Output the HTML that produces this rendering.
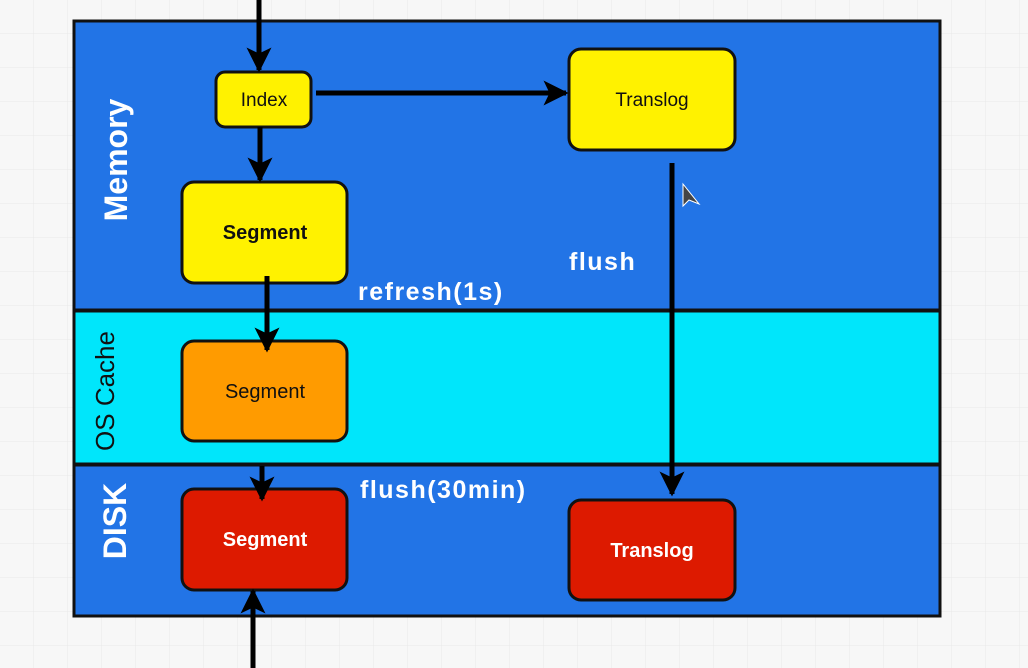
<!DOCTYPE html>
<html><head><style>
html,body{margin:0;padding:0;background:#f7f7f7;}
svg{display:block;font-family:"Liberation Sans",sans-serif;}
</style></head><body>
<svg width="1028" height="668" viewBox="0 0 1028 668">
<defs>
<pattern id="g" width="34" height="34" patternUnits="userSpaceOnUse"><path d="M34 0V34H0" fill="none" stroke="#e9e9e9" stroke-width="1"/></pattern>
<marker id="a" markerWidth="5" markerHeight="5" refX="4.5" refY="2.5" orient="auto" markerUnits="strokeWidth"><path d="M0,0 L5,2.5 L0,5 L1.2,2.5 z" fill="#000"/></marker>
</defs>
<rect width="1028" height="668" fill="url(#g)"/>
<rect x="74" y="21" width="866" height="289" fill="#2274e6" stroke="#111" stroke-width="3"/>
<rect x="74" y="311" width="866" height="153" fill="#00e6fb" stroke="#111" stroke-width="3"/>
<rect x="74" y="465" width="866" height="151" fill="#2274e6" stroke="#111" stroke-width="3"/>

<g stroke="#111" stroke-width="3">
<rect x="216" y="72" width="95" height="55" rx="9" fill="#fff200"/>
<rect x="569" y="49" width="166" height="101" rx="12" fill="#fff200"/>
<rect x="182" y="182" width="165" height="101" rx="12" fill="#fff200"/>
<rect x="182" y="341" width="165" height="100" rx="12" fill="#ff9b00"/>
<rect x="182" y="489" width="165" height="101" rx="12" fill="#dd1a00"/>
<rect x="569" y="500" width="166" height="100" rx="12" fill="#dd1a00"/>
</g>

<g stroke="#000" stroke-width="5" fill="none" marker-end="url(#a)">
<line x1="259" y1="0" x2="259" y2="70"/>
<line x1="260" y1="127" x2="260" y2="180"/>
<line x1="316" y1="93" x2="566" y2="93"/>
<line x1="267" y1="276" x2="267" y2="350"/>
<line x1="262" y1="466" x2="262" y2="499"/>
<line x1="672" y1="163" x2="672" y2="494"/>
<line x1="253" y1="668" x2="253" y2="591"/>
</g>

<g font-size="19" text-anchor="middle" fill="#111">
<text x="264" y="106">Index</text>
<text x="652" y="106">Translog</text>
<text x="265" y="239" font-weight="bold" font-size="20">Segment</text>
<text x="265" y="398" font-size="20">Segment</text>
<text x="265" y="546" fill="#fff" font-weight="bold" font-size="20">Segment</text>
<text x="652" y="557" fill="#fff" font-weight="bold" font-size="20">Translog</text>
</g>

<g font-weight="bold" font-size="25" fill="#fff" letter-spacing="1.5">
<text x="358" y="300">refresh(1s)</text>
<text x="569" y="270">flush</text>
<text x="360" y="498">flush(30min)</text>
</g>

<text transform="translate(127,160) rotate(-90)" text-anchor="middle" font-size="32" font-weight="bold" fill="#fff">Memory</text>
<text transform="translate(114,391) rotate(-90)" text-anchor="middle" font-size="26" fill="#111">OS Cache</text>
<text transform="translate(126,521) rotate(-90)" text-anchor="middle" font-size="32" font-weight="bold" fill="#fff">DISK</text>

<path d="M683 184 L683 206 L689 200 L699 204 Z" fill="#444" stroke="#fff" stroke-width="1"/>
</svg>
</body></html>
